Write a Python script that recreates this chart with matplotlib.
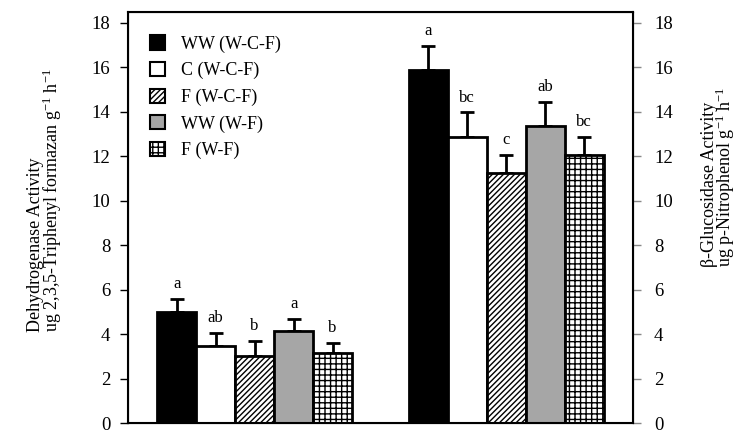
import matplotlib
matplotlib.use("Agg")
import matplotlib.pyplot as plt
import numpy as np
from matplotlib.patches import Patch

plt.rcParams['font.family'] = ['Liberation Serif', 'DejaVu Serif']
plt.rcParams['hatch.linewidth'] = 1.0
plt.rcParams['mathtext.fontset'] = 'custom'
plt.rcParams['mathtext.rm'] = 'Liberation Serif'
plt.rcParams['mathtext.it'] = 'Liberation Serif:italic'
plt.rcParams['mathtext.bf'] = 'Liberation Serif:bold'

series = ["WW (W-C-F)", "C (W-C-F)", "F (W-C-F)", "WW (W-F)", "F (W-F)"]
dehydrogenase = [4.99, 3.49, 3.02, 4.16, 3.14]
dehydrogenase_err = [0.59, 0.55, 0.68, 0.53, 0.48]
dehydrogenase_letters = ["a", "ab", "b", "a", "b"]
glucosidase = [15.87, 12.85, 11.26, 13.36, 12.05]
glucosidase_err = [1.09, 1.12, 0.78, 1.09, 0.83]
glucosidase_letters = ["a", "bc", "c", "ab", "bc"]
yticks = [0, 2, 4, 6, 8, 10, 12, 14, 16, 18]

facecolors = ["black", "white", "white", "#a6a6a6", "white"]
hatches = [None, None, "//////", None, "+++"]

fig = plt.figure(figsize=(7.44, 4.30), dpi=100)
ax = fig.add_axes([0.1725, 0.0156, 0.851 - 0.1725, 0.9728 - 0.0156])

group_starts = [0.74, 7.19]
groups = [(dehydrogenase, dehydrogenase_err, dehydrogenase_letters),
          (glucosidase, glucosidase_err, glucosidase_letters)]
for g0, (vals, errs, letters) in zip(group_starts, groups):
    for i in range(5):
        x = g0 + 0.5 + i
        ax.bar(x, vals[i], width=1.0, facecolor=facecolors[i], edgecolor="black",
               linewidth=2.0, hatch=hatches[i], zorder=2)
        ax.errorbar(x, vals[i], yerr=[[0], [errs[i]]], fmt="none", ecolor="black",
                    elinewidth=2.0, capsize=5, capthick=2.0, zorder=1)
        ax.annotate(letters[i], (x, vals[i] + errs[i]), xytext=(0, 5),
                    textcoords="offset points", ha="center", va="bottom", fontsize=12)

ax.set_xlim(0, 12.95)
ax.set_ylim(0, 18.5)
ax.set_yticks(yticks)
ax.set_xticks([])
ax.tick_params(axis="y", direction="out", length=6, width=1, labelsize=13.5, pad=7)
for s in ax.spines.values():
    s.set_linewidth(1.5)
ax.set_ylabel("Dehydrogenase Activity\nug 2,3,5-Triphenyl formazan g$^{\\mathrm{-1}}$ h$^{\\mathrm{-1}}$",
              fontsize=13, linespacing=0.78, multialignment="left")
ax.yaxis.set_label_coords(-0.128, 0.5425)

ax2 = ax.twinx()
ax2.set_ylim(0, 18.5)
ax2.set_yticks(yticks)
ax2.tick_params(axis="y", direction="out", length=6, width=1, labelsize=13.5, pad=9,
                color="#888888")
ax2.set_ylabel("\u03b2-Glucosidase Activity\nug p-Nitrophenol g$^{\\mathrm{-1}}$ h$^{\\mathrm{-1}}$",
               fontsize=13, linespacing=0.78, multialignment="left")
ax2.yaxis.set_label_coords(1.134, 0.599)

handles = [Patch(facecolor=facecolors[i], edgecolor="black", linewidth=1.5, hatch=hatches[i])
           for i in range(5)]
ax.legend(handles, series, loc="upper left", bbox_to_anchor=(0.0, 0.995), frameon=False,
          fontsize=13, handlelength=0.85, handleheight=0.85, handletextpad=0.85,
          labelspacing=0.5, borderaxespad=0.8)

fig.savefig("out.png", dpi=100)
